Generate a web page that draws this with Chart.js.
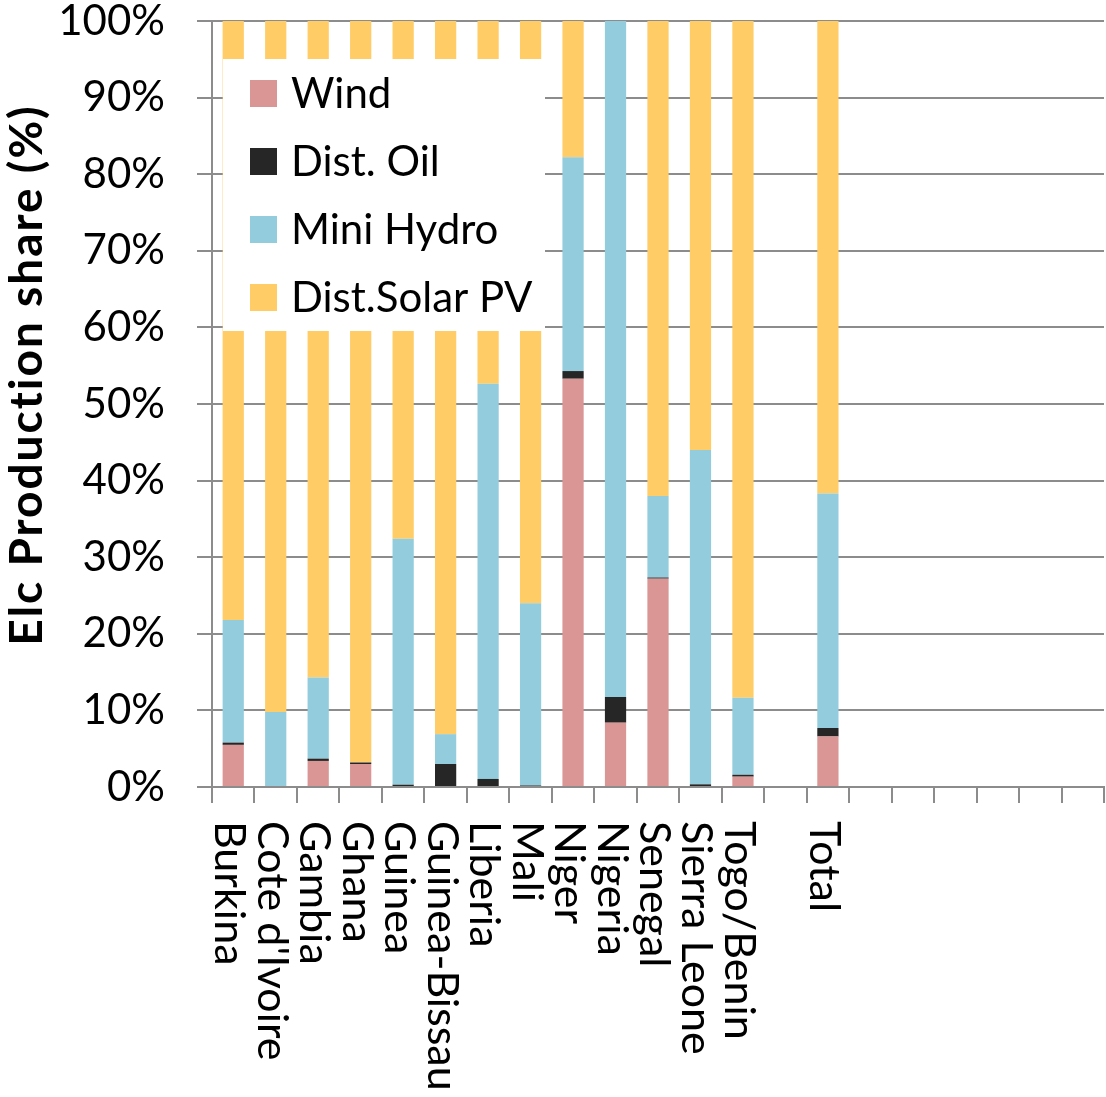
<!DOCTYPE html>
<html>
<head>
<meta charset="utf-8">
<title>Elc Production share</title>
<script src="https://cdn.jsdelivr.net/npm/chart.js@4.4.1/dist/chart.umd.min.js"></script>
<style>
  html, body { margin: 0; padding: 0; background: #fff; }
  #shareChart { display: block; }
</style>
</head>
<body>
<canvas id="shareChart" width="1106" height="1097"></canvas>
<script>
// ===== production share by country (stacked to 100%) =====

const countries = ['Burkina', "Cote d'Ivoire", 'Gambia', 'Ghana', 'Guinea', 'Guinea-Bissau', 'Liberia', 'Mali',
  'Niger', 'Nigeria', 'Senegal', 'Sierra Leone', 'Togo/Benin', '', 'Total', '', '', '', '', '', ''];

const wind  = [5.5, 0, 3.4, 3.0, 0, 0, 0, 0, 53.3, 8.4, 27.2, 0, 1.35, null, 6.6, null, null, null, null, null, null];
const oil   = [0.3, 0, 0.3, 0.2, 0.3, 3.0, 1.05, 0.2, 1.0, 3.35, 0.15, 0.35, 0.25, null, 1.1, null, null, null, null, null, null];
const hydro = [16.0, 9.8, 10.6, 0, 32.1, 3.9, 51.6, 23.8, 27.9, 88.25, 10.65, 43.65, 10.05, null, 30.6, null, null, null, null, null, null];
const solar = [78.2, 90.2, 85.7, 96.8, 67.6, 93.1, 47.35, 76.0, 17.8, 0, 62.0, 56.0, 88.35, null, 61.7, null, null, null, null, null, null];

const yTicks = [0, 10, 20, 30, 40, 50, 60, 70, 80, 90, 100];

const FONT = 'Lato';
const GRID = '#8c8c8c';

// legend box drawn over the top-left of the plot, plus rotated x labels and y title
const overlayPlugin = {
  id: 'overlay',
  afterDatasetsDraw(chart) {
    const ctx = chart.ctx;
    ctx.save();
    ctx.fillStyle = '#ffffff';
    ctx.fillRect(223, 59, 322, 272);
    ctx.font = `42px ${FONT}`;
    ctx.textBaseline = 'middle';
    ctx.textAlign = 'left';
    chart.data.datasets.forEach((ds, i) => {
      const y = 93 + i * 68;
      ctx.fillStyle = ds.backgroundColor;
      ctx.fillRect(250, y - 13, 27, 27);
      ctx.fillStyle = '#000';
      ctx.fillText(ds.label, 291, y + 1);
    });
    ctx.restore();
  },
  afterDraw(chart) {
    const ctx = chart.ctx;
    const xs = chart.scales.x;
    ctx.save();
    ctx.fillStyle = '#000';
    ctx.font = `43px ${FONT}`;
    ctx.textAlign = 'left';
    ctx.textBaseline = 'alphabetic';
    chart.data.labels.forEach((lab, i) => {
      if (!lab) return;
      const x = xs.getPixelForValue(i) - 18;
      ctx.save();
      ctx.translate(x, 821);
      ctx.rotate(Math.PI / 2);
      ctx.fillText(lab, 0, 0);
      ctx.restore();
    });
    // y axis title
    ctx.font = `bold 46px ${FONT}`;
    ctx.letterSpacing = '2px';
    ctx.textAlign = 'center';
    ctx.textBaseline = 'middle';
    ctx.translate(27, 375);
    ctx.rotate(-Math.PI / 2);
    ctx.fillText('Elc Production share (%)', 0, 0);
    ctx.restore();
  }
};

function makeSet(label, data, color) {
  return {
    label,
    data,
    backgroundColor: color,
    borderWidth: 0,
    categoryPercentage: 1.0,
    barPercentage: 0.5
  };
}

new Chart(document.getElementById('shareChart'), {
  type: 'bar',
  data: {
    labels: countries,
    datasets: [
      makeSet('Wind', wind, '#D99694'),
      makeSet('Dist. Oil', oil, '#262626'),
      makeSet('Mini Hydro', hydro, '#93CDDD'),
      makeSet('Dist.Solar PV', solar, '#FFCC66')
    ]
  },
  options: {
    responsive: false,
    animation: false,
    layout: { padding: { top: 21, right: 2, left: 0, bottom: 0 } },
    plugins: { legend: { display: false }, tooltip: { enabled: false } },
    scales: {
      x: {
        stacked: true,
        ticks: { display: false },
        grid: { offset: true, drawOnChartArea: false, drawTicks: true, tickLength: 16, color: GRID, lineWidth: 2 },
        border: { color: GRID, width: 2 },
        afterFit: s => { s.height = 310; }
      },
      y: {
        stacked: true,
        min: 0,
        max: 100,
        afterBuildTicks: s => { s.ticks = yTicks.map(v => ({ value: v })); },
        ticks: {
          callback: v => v + '%',
          padding: 32,
          color: '#000',
          font: { family: FONT, size: 42, lineHeight: 1 }
        },
        grid: { color: GRID, lineWidth: 2, tickLength: 15 },
        border: { color: GRID, width: 2 },
        afterFit: s => {
          s.width = 212;
          s.paddingTop = 0;
          s.paddingBottom = 0;
        }
      }
    }
  },
  plugins: [overlayPlugin]
});
</script>
</body>
</html>
